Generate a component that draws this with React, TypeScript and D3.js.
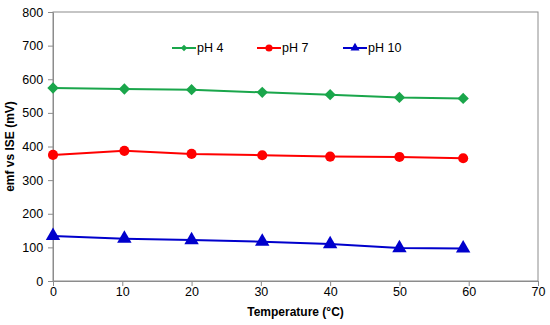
import React, { useRef, useEffect } from 'react';
import * as d3 from 'd3';

const temps = [0, 10.3, 20, 30.2, 40, 50, 59.2];
const ph4 = [574, 571, 569, 561, 554, 546, 543];
const ph7 = [375, 387, 378, 374, 370, 369, 365];
const ph10 = [134, 126, 122, 117, 110, 98, 97];
const seriesNames = ['pH 4', 'pH 7', 'pH 10'];
const xTicks = [0, 10, 20, 30, 40, 50, 60, 70];
const yTicks = [0, 100, 200, 300, 400, 500, 600, 700, 800];

const App = () => {
  const chart = useRef<SVGSVGElement>(null);

  useEffect(() => {
    const width = 550;
    const height = 325;
    const margin = { top: 12, right: 12, bottom: 44, left: 53 };
    const w = width - margin.left - margin.right;
    const h = height - margin.top - margin.bottom;

    const root = d3.select(chart.current);
    root.selectAll('*').remove();
    const svg = root.append('g').attr('transform', `translate(${margin.left},${margin.top})`);

    const x = d3.scaleLinear().domain([0, 70]).range([0, w]);
    const y = d3.scaleLinear().domain([0, 800]).range([h, 0]);

    // frame
    svg.append('rect').attr('width', w).attr('height', h)
      .attr('fill', 'none').attr('stroke', '#8c8c8c').attr('stroke-width', 1);

    const xAxis = svg.append('g').attr('transform', `translate(0,${h})`)
      .call(d3.axisBottom(x).tickValues(xTicks).tickSize(5).tickSizeOuter(0));
    const yAxis = svg.append('g')
      .call(d3.axisLeft(y).tickValues(yTicks).tickSize(5).tickSizeOuter(0));
    [xAxis, yAxis].forEach(a => {
      a.selectAll('path,line').attr('stroke', '#8c8c8c');
      a.selectAll('text').attr('fill', '#000').attr('font-size', 12.5)
        .attr('font-family', 'Liberation Sans, Arial, sans-serif');
    });
    xAxis.selectAll('text').attr('y', 6).attr('dy', '0.75em');
    yAxis.selectAll('text').attr('dx', '-0.15em');

    // diamonds are squares turned 45deg so they come out as wide as tall
    const series = [
      { name: seriesNames[0], vals: ph4, color: '#1aa64b', shape: d3.symbolSquare, rot: 45, size: 64, lsize: 22 },
      { name: seriesNames[1], vals: ph7, color: '#ff0000', shape: d3.symbolCircle, rot: 0, size: 80, lsize: 40 },
      { name: seriesNames[2], vals: ph10, color: '#0000cc', shape: d3.symbolTriangle, rot: 0, size: 90, lsize: 35 },
    ];

    const line = d3.line<number>().x((_, i) => x(temps[i])).y(d => y(d));

    series.forEach(s => {
      svg.append('path').datum(s.vals)
        .attr('fill', 'none').attr('stroke', s.color).attr('stroke-width', 2)
        .attr('d', line);
      svg.selectAll(null).data(s.vals).enter().append('path')
        .attr('transform', (d, i) => `translate(${x(temps[i])},${y(d)}) rotate(${s.rot})`)
        .attr('d', d3.symbol().type(s.shape).size(s.size)())
        .attr('fill', s.color);
    });

    // legend
    const legendX = [172 - margin.left, 257 - margin.left, 343 - margin.left];
    series.forEach((s, i) => {
      const g = svg.append('g').attr('transform', `translate(${legendX[i]},${48 - margin.top})`);
      g.append('line').attr('x1', 0).attr('x2', 24).attr('stroke', s.color).attr('stroke-width', 2);
      g.append('path').attr('transform', `translate(12,0) rotate(${s.rot})`)
        .attr('d', d3.symbol().type(s.shape).size(s.lsize)()).attr('fill', s.color);
      g.append('text').attr('x', 25).attr('dy', '0.35em').text(s.name)
        .attr('font-size', 12.5).attr('font-family', 'Liberation Sans, Arial, sans-serif');
    });

    svg.append('text').attr('x', w / 2).attr('y', h + 35)
      .attr('text-anchor', 'middle').attr('font-weight', 'bold').attr('font-size', 12)
      .attr('font-family', 'Liberation Sans, Arial, sans-serif')
      .text('Temperature (°C)');
    svg.append('text')
      .attr('transform', `translate(${-39},${h / 2}) rotate(-90)`)
      .attr('text-anchor', 'middle').attr('font-weight', 'bold').attr('font-size', 12)
      .attr('font-family', 'Liberation Sans, Arial, sans-serif')
      .text('emf vs ISE (mV)');
  }, []);

  return (
    <div style={{ position: 'absolute', left: 0, top: 0 }}>
      <svg ref={chart} width={550} height={325}></svg>
    </div>
  );
};

export default App;
